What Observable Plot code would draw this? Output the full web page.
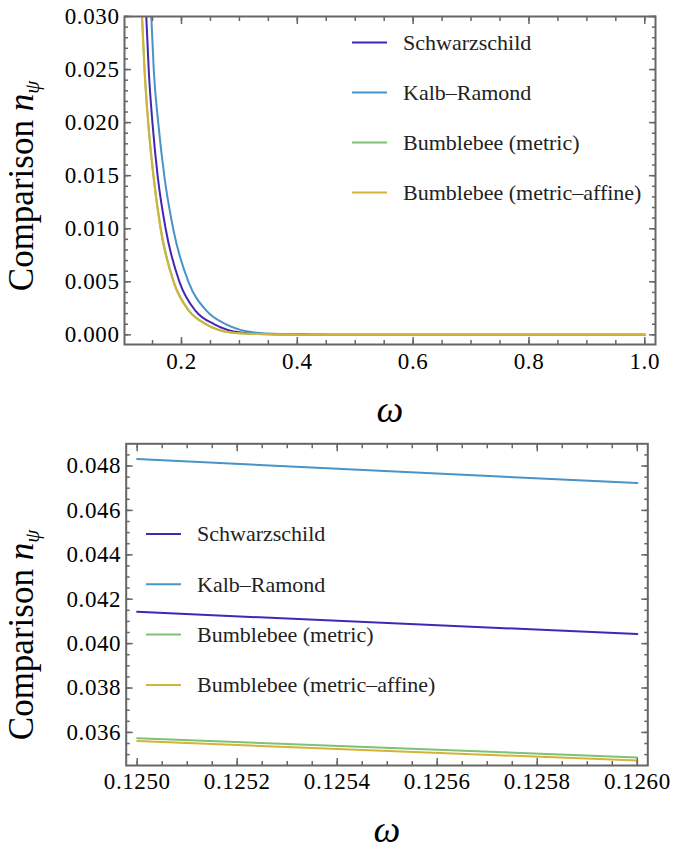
<!DOCTYPE html>
<html>
<head>
<meta charset="utf-8">
<script src="https://cdn.jsdelivr.net/npm/d3@7"></script>
<script src="https://cdn.jsdelivr.net/npm/@observablehq/plot@0.6"></script>
<style>
  html, body { margin: 0; padding: 0; background: #fff; font-family: "Liberation Serif", serif; }
  #wrap { width: 675px; height: 852px; overflow: hidden; }
  #wrap svg { display: block; }
</style>
</head>
<body>
<div id="wrap"></div>
<script>
// ---------- series ----------
const seriesNames = ["Schwarzschild", "Kalb–Ramond", "Bumblebee (metric)", "Bumblebee (metric–affine)"];
const seriesColors = ["#4326b5", "#4893c8", "#7fc273", "#d2b43b"];

// ---------- top panel (omega 0.1 .. 1.0) ----------
const topSchwW = [0.125, 0.1392, 0.1435, 0.1500, 0.1590, 0.1730, 0.1971, 0.2243, 0.2561, 0.3024, 0.350, 0.420, 0.50, 0.70, 1.00];
const topSchwN = [0.0414, 0.0300, 0.0249, 0.0199, 0.0149, 0.0099, 0.0049, 0.00226, 0.00101, 0.00022, 0.00008, 0.00002, 0, 0, 0];
const topKRW   = [0.125, 0.1479, 0.1522, 0.1600, 0.1705, 0.1860, 0.2127, 0.2434, 0.2764, 0.3256, 0.370, 0.450, 0.55, 0.70, 1.00];
const topKRN   = [0.0483, 0.0300, 0.0249, 0.0199, 0.0149, 0.0099, 0.0049, 0.00226, 0.00101, 0.00022, 0.00008, 0.00002, 0, 0, 0];
const topBMW   = [0.125, 0.1317, 0.1361, 0.1425, 0.1515, 0.1640, 0.1867, 0.2127, 0.2417, 0.2851, 0.330, 0.400, 0.50, 0.70, 1.00];
const topBMN   = [0.0357, 0.0303, 0.0252, 0.0201, 0.0151, 0.0101, 0.0050, 0.00232, 0.00104, 0.00023, 0.00008, 0.00002, 0, 0, 0];
const topBMAW  = [0.125, 0.1317, 0.1361, 0.1425, 0.1515, 0.1640, 0.1867, 0.2127, 0.2417, 0.2851, 0.330, 0.400, 0.50, 0.70, 1.00];
const topBMAN  = [0.0356, 0.0300, 0.0249, 0.0199, 0.0149, 0.0099, 0.0049, 0.00226, 0.00101, 0.00022, 0.00008, 0.00002, 0, 0, 0];

const topXTicks = [0.2, 0.4, 0.6, 0.8, 1.0];
const topYTicks = [0.000, 0.005, 0.010, 0.015, 0.020, 0.025, 0.030];

// ---------- bottom panel (omega 0.1250 .. 0.1260) ----------
const botSchwW = [0.1250, 0.1260];
const botSchwN = [0.04143, 0.04043];
const botKRW   = [0.1250, 0.1260];
const botKRN   = [0.04831, 0.04723];
const botBMW   = [0.1250, 0.1260];
const botBMN   = [0.03574, 0.03487];
const botBMAW  = [0.1250, 0.1260];
const botBMAN  = [0.03561, 0.03473];

const botXTicks = [0.1250, 0.1252, 0.1254, 0.1256, 0.1258, 0.1260];
const botYTicks = [0.036, 0.038, 0.040, 0.042, 0.044, 0.046, 0.048];

// ---------- helpers ----------
function rows(list) {
  const out = [];
  list.forEach(([name, ws, ns]) => ws.forEach((w, i) => out.push({series: name, w, n: ns[i]})));
  return out;
}
const topRows = rows([
  [seriesNames[0], topSchwW, topSchwN],
  [seriesNames[1], topKRW, topKRN],
  [seriesNames[2], topBMW, topBMN],
  [seriesNames[3], topBMAW, topBMAN]
]);
const botRows = rows([
  [seriesNames[0], botSchwW, botSchwN],
  [seriesNames[1], botKRW, botKRN],
  [seriesNames[2], botBMW, botBMN],
  [seriesNames[3], botBMAW, botBMAN]
]);

const FONT = "Liberation Serif";
const FRAME = "#666";

function frameTicks(majX, minX, majY, minY) {
  const blank = () => "";
  const o = {tickFormat: blank, stroke: FRAME, strokeWidth: 1.5};
  return [
    Plot.axisX(minX, {anchor: "bottom", tickSize: -4, ...o}),
    Plot.axisX(majX, {anchor: "bottom", tickSize: -7, ...o}),
    Plot.axisX(minX, {anchor: "top", tickSize: -4, ...o}),
    Plot.axisX(majX, {anchor: "top", tickSize: -7, ...o}),
    Plot.axisY(minY, {anchor: "left", tickSize: -4, ...o}),
    Plot.axisY(majY, {anchor: "left", tickSize: -7, ...o}),
    Plot.axisY(minY, {anchor: "right", tickSize: -4, ...o}),
    Plot.axisY(majY, {anchor: "right", tickSize: -7, ...o})
  ];
}

function makePanel(cfg) {
  const svg = Plot.plot({
    width: 675,
    height: cfg.height,
    marginTop: cfg.mt, marginBottom: cfg.mb, marginLeft: cfg.ml, marginRight: cfg.mr,
    style: "font-family: 'Liberation Serif', serif; color: #000; background: #fff; overflow: visible;",
    x: {domain: cfg.xDomain, label: null},
    y: {domain: cfg.yDomain, label: null},
    color: {domain: seriesNames, range: seriesColors},
    marks: [
      Plot.line(cfg.data, {x: "w", y: "n", stroke: "series", z: "series", strokeWidth: 2, curve: "monotone-x", clip: true}),
      ...frameTicks(cfg.xTicks, cfg.xMinor, cfg.yTicks, cfg.yMinor),
      Plot.axisX(cfg.xTicks, {anchor: "bottom", tickSize: 0, tickPadding: cfg.xPad, tickFormat: cfg.xFmt, fontSize: 23, fill: "#000"}),
      Plot.axisY(cfg.yTicks, {anchor: "left", tickSize: 0, tickPadding: 5, tickFormat: cfg.yFmt, fontSize: 23, fill: "#000"}),
      Plot.frame({stroke: FRAME, strokeWidth: 2})
    ]
  });
  const s = d3.select(svg);
  s.attr("font-family", FONT);
  s.selectAll("g[aria-label$='axis tick label'] text").style("letter-spacing", "0.6px");
  // y axis title
  const yt = s.append("text")
    .attr("transform", `translate(${cfg.yLabX},${cfg.yLabY}) rotate(-90)`)
    .attr("text-anchor", "middle")
    .attr("font-size", 35)
    .attr("fill", "#000");
  yt.append("tspan").text("Comparison ");
  yt.append("tspan").attr("font-style", "italic").text("n");
  yt.append("tspan").attr("font-style", "italic").attr("font-size", 21).attr("dy", "0.3em").text("ψ");
  // x axis title
  s.append("text")
    .attr("x", cfg.xLabX).attr("y", cfg.xLabY)
    .attr("text-anchor", "middle")
    .attr("font-style", "italic")
    .attr("font-size", 38)
    .attr("fill", "#000")
    .text("ω");
  // legend
  const lg = s.append("g");
  seriesNames.forEach((name, i) => {
    const yy = cfg.legY + i * cfg.legStep;
    lg.append("line").attr("x1", cfg.legX).attr("x2", cfg.legX + 35).attr("y1", yy).attr("y2", yy)
      .attr("stroke", seriesColors[i]).attr("stroke-width", 2);
    lg.append("text").attr("x", cfg.legX + 51).attr("y", yy).attr("dy", "0.33em")
      .attr("text-anchor", "start")
      .attr("font-size", 22).attr("fill", "#222").text(name);
  });
  s.selectAll("text, tspan").style("font-family", "'Liberation Serif', serif");
  return svg;
}

const rnd = (v, p) => +v.toFixed(p);

const topPanel = makePanel({
  data: topRows, height: 430, mt: 16, mb: 86, ml: 124, mr: 20,
  xDomain: [0.1016, 1.0185], yDomain: [-0.00091, 0.030],
  xTicks: topXTicks, xMinor: d3.range(3, 21).map(i => rnd(i * 0.05, 2)),
  yTicks: topYTicks, yMinor: d3.range(0, 31).map(i => rnd(i * 0.001, 3)),
  xFmt: d3.format(".1f"), yFmt: d3.format(".3f"), xPad: 8,
  yLabX: 33, yLabY: 186, xLabX: 390, xLabY: 422,
  legX: 352, legY: 42.5, legStep: 50
});

const botPanel = makePanel({
  data: botRows, height: 422, mt: 13.3, mb: 87, ml: 125.7, mr: 27.7,
  xDomain: [0.124978, 0.126021], yDomain: [0.03451, 0.04900],
  xTicks: botXTicks, xMinor: d3.range(0, 21).map(i => rnd(0.125 + i * 0.00005, 5)),
  yTicks: botYTicks, yMinor: d3.range(0, 28).map(i => rnd(0.035 + i * 0.0005, 4)),
  xFmt: d3.format(".4f"), yFmt: d3.format(".3f"), xPad: 7,
  yLabX: 33, yLabY: 205, xLabX: 387, xLabY: 412,
  legX: 146, legY: 104, legStep: 50.3
});

const wrap = document.getElementById("wrap");
wrap.appendChild(topPanel);
wrap.appendChild(botPanel);
</script>
</body>
</html>
